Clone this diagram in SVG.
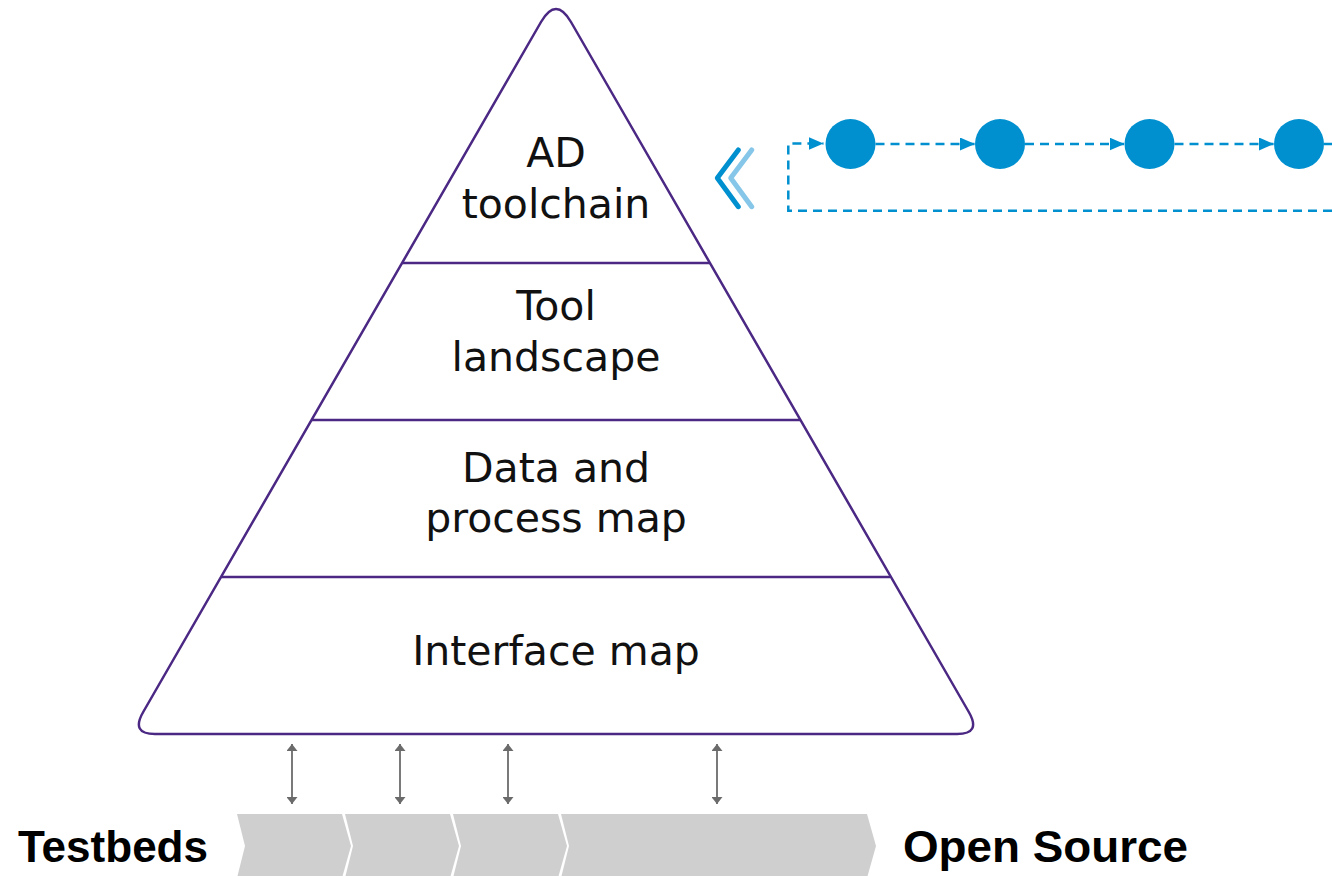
<svg xmlns="http://www.w3.org/2000/svg" width="1332" height="876" viewBox="0 0 1332 876">
<style>
.lbl{font-family:"DejaVu Sans",sans-serif;font-size:41px;fill:#111;text-anchor:middle}
.bold{font-family:"Liberation Sans",Arial,sans-serif;font-weight:bold;font-size:44px;fill:#000}
.tier{fill:none;stroke:#4B2883;stroke-width:2.5}
.conn{stroke:#6b6b6b;stroke-width:1.8;fill:none}
.dash{stroke:#0090D0;stroke-width:2.5;fill:none;stroke-dasharray:9 6}
.dot{fill:#0090D0}
.bar{fill:#D0CFD0}
</style>
<defs>
<marker id="ah" viewBox="0 0 10 10" refX="10" refY="5" markerWidth="7" markerHeight="11" markerUnits="userSpaceOnUse" orient="auto-start-reverse" preserveAspectRatio="none"><path d="M0,0 L10,5 L0,10 z" fill="#6b6b6b"/></marker>
<marker id="bh" viewBox="0 0 14 12" refX="14" refY="6" markerWidth="15" markerHeight="13" markerUnits="userSpaceOnUse" orient="auto" preserveAspectRatio="none"><path d="M0,0 L14,6 L0,12 z" fill="#0090D0"/></marker>
</defs>
<g id="pyramid">
<path class="tier" d="M541,22 Q556,-4 571,22 L968.8,712 Q981.5,734 957,734 L155,734 Q130.5,734 143.2,712 Z"/>
<line class="tier" x1="402" y1="263" x2="710" y2="263"/>
<line class="tier" x1="312" y1="420" x2="800" y2="420"/>
<line class="tier" x1="221" y1="577" x2="890" y2="577"/>
</g>
<g id="ad-toolchain"><text class="lbl" x="556" y="167">AD</text><text class="lbl" x="556" y="218">toolchain</text></g>
<g id="tool-landscape"><text class="lbl" x="556" y="320">Tool</text><text class="lbl" x="556" y="371">landscape</text></g>
<g id="data-process-map"><text class="lbl" x="556" y="482">Data and</text><text class="lbl" x="556" y="532">process map</text></g>
<g id="interface-map"><text class="lbl" x="556" y="665">Interface map</text></g>
<g id="process-bar">
<path class="bar" d="M237,814 L342,814 L351,846 L342,878 L237,878 L245,846 Z"/>
<path class="bar" d="M345,814 L450,814 L459,846 L450,878 L345,878 L353,846 Z"/>
<path class="bar" d="M453,814 L558,814 L567,846 L558,878 L453,878 L461,846 Z"/>
<path class="bar" d="M561,814 L867,814 L876,846 L867,878 L561,878 L569,846 Z"/>
</g>
<g id="testbeds"><text class="bold" x="18" y="862" textLength="190" lengthAdjust="spacingAndGlyphs">Testbeds</text></g>
<g id="open-source"><text class="bold" x="903" y="862" textLength="285" lengthAdjust="spacingAndGlyphs">Open Source</text></g>
<g id="back-chevron" fill="none" stroke-linecap="round" stroke-linejoin="round" stroke-width="5">
<polyline points="751.7,150 730.7,178 751.7,206.7" stroke="#86C7E9"/>
<polyline points="738.3,150 717.3,178 738.3,206.7" stroke="#0090D0"/>
</g>
<g id="loop-nodes">
<circle class="dot" cx="850.5" cy="144" r="25"/>
<circle class="dot" cx="1000" cy="144" r="25"/>
<circle class="dot" cx="1149.5" cy="144" r="25"/>
<circle class="dot" cx="1299" cy="144" r="25"/>
</g>
<g id="connectors">
<line class="conn" x1="292" y1="744" x2="292" y2="804" marker-start="url(#ah)" marker-end="url(#ah)"/>
<line class="conn" x1="400" y1="744" x2="400" y2="804" marker-start="url(#ah)" marker-end="url(#ah)"/>
<line class="conn" x1="508" y1="744" x2="508" y2="804" marker-start="url(#ah)" marker-end="url(#ah)"/>
<line class="conn" x1="717" y1="744" x2="717" y2="804" marker-start="url(#ah)" marker-end="url(#ah)"/>
<path class="dash" d="M1332,210.7 L788.3,210.7 L788.3,143.5 L823.5,143.5" marker-end="url(#bh)"/>
<line class="dash" x1="875.5" y1="144" x2="975" y2="144" marker-end="url(#bh)"/>
<line class="dash" x1="1025" y1="144" x2="1124.5" y2="144" marker-end="url(#bh)"/>
<line class="dash" x1="1174.5" y1="144" x2="1274" y2="144" marker-end="url(#bh)"/>
<line class="dash" x1="1324" y1="144" x2="1332" y2="144"/>
</g>
</svg>
